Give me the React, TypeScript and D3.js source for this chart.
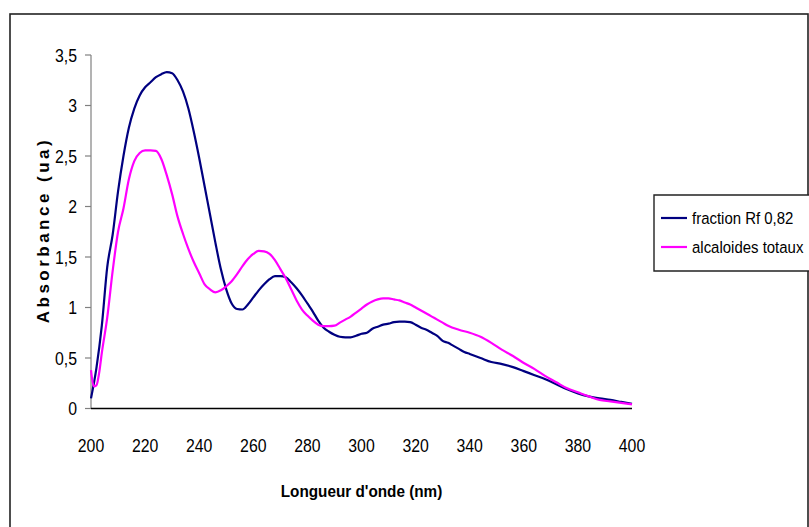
import React from 'react';
import * as d3 from 'd3';

// Absorption spectra (wavelength in nm, absorbance in ua)
const wavelengthsRf = [
  200, 202, 204, 206, 208, 210, 212, 214, 216, 218,
  220, 222, 224, 226, 228, 230, 232, 234, 236, 238,
  240, 242, 244, 246, 248, 250, 252, 254, 256, 258,
  260, 262, 264, 266, 268, 270, 272, 274, 276, 278,
  280, 282, 284, 286, 288, 290, 292, 294, 296, 298,
  300, 302, 304, 306, 308, 310, 312, 314, 316, 318,
  320, 322, 324, 326, 328, 330, 332, 334, 336, 338,
  340, 344, 348, 352, 356, 360, 364, 368, 372, 376,
  380, 384, 388, 392, 396, 400,
];
const absorbanceRf = [
  0.10, 0.40, 0.82, 1.40, 1.72, 2.15, 2.50, 2.78, 2.97, 3.10,
  3.18, 3.23, 3.28, 3.31, 3.33, 3.32, 3.25, 3.14, 2.97, 2.74,
  2.48, 2.20, 1.92, 1.64, 1.38, 1.18, 1.04, 0.985, 0.98, 1.03,
  1.10, 1.17, 1.23, 1.28, 1.31, 1.31, 1.30, 1.25, 1.19, 1.12,
  1.04, 0.96, 0.87, 0.80, 0.76, 0.73, 0.71, 0.705, 0.705, 0.72,
  0.74, 0.75, 0.79, 0.81, 0.83, 0.84, 0.855, 0.86, 0.86, 0.855,
  0.83, 0.80, 0.78, 0.75, 0.72, 0.67, 0.65, 0.62, 0.59, 0.56,
  0.54, 0.50, 0.46, 0.44, 0.41, 0.37, 0.33, 0.29, 0.24, 0.19,
  0.15, 0.12, 0.10, 0.085, 0.065, 0.045,
];

const wavelengthsTotal = [
  200, 201, 202, 203, 204,
  206, 208, 210, 212, 214, 216, 218, 220, 222, 224,
  226, 228, 230, 232, 234, 236, 238, 240, 242, 244,
  246, 248, 250, 252, 254, 256, 258, 260, 262, 264,
  266, 268, 270, 272, 274, 276, 278, 280, 282, 284,
  286, 288, 290, 292, 294, 296, 298, 300, 302, 304,
  306, 308, 310, 312, 314, 316, 318, 320, 322, 324,
  326, 328, 330, 332, 336, 340,
  344, 348, 352, 356, 360, 364, 368, 372, 376, 380,
  384, 388, 392, 396, 400,
];
const absorbanceTotal = [
  0.38, 0.22, 0.23, 0.35, 0.55,
  0.90, 1.36, 1.75, 1.98, 2.27, 2.45, 2.53, 2.555, 2.555, 2.55,
  2.47, 2.31, 2.12, 1.90, 1.73, 1.58, 1.45, 1.34, 1.23, 1.18,
  1.15, 1.17, 1.21, 1.26, 1.33, 1.41, 1.48, 1.53, 1.56, 1.555,
  1.53, 1.47, 1.38, 1.29, 1.18, 1.07, 0.98, 0.92, 0.87, 0.83,
  0.815, 0.815, 0.82, 0.85, 0.88, 0.91, 0.95, 0.99, 1.03, 1.06,
  1.08, 1.09, 1.09, 1.08, 1.07, 1.05, 1.03, 1.00, 0.97, 0.94,
  0.91, 0.88, 0.85, 0.82, 0.78, 0.75,
  0.71, 0.65, 0.58, 0.52, 0.45, 0.39, 0.32, 0.26, 0.20, 0.16,
  0.12, 0.085, 0.07, 0.055, 0.04,
];

const seriesNames = ['fraction Rf 0,82', 'alcaloides totaux'];
const seriesColors = ['#000080', '#FF00FF'];

const xTicks = [200, 220, 240, 260, 280, 300, 320, 340, 360, 380, 400];
const yTicks = [0, 0.5, 1, 1.5, 2, 2.5, 3, 3.5];

const xTitle = "Longueur d'onde (nm)";
const yTitle = 'Absorbance (ua)';

const W = 809;
const H = 527;
const FONT = 'Arial, "Liberation Sans", sans-serif';
const SQUEEZE = 0.88;

const fmt = (v: number) => String(v).replace('.', ',');

function Label({ x, y, anchor = 'start', size = 18, bold = false, squeeze = SQUEEZE, children }: any) {
  return (
    <text
      transform={`translate(${x},${y}) scale(${squeeze},1)`}
      textAnchor={anchor}
      fontFamily={FONT}
      fontSize={size}
      fontWeight={bold ? 'bold' : 'normal'}
      fill="#000"
    >
      {children}
    </text>
  );
}

export default function App() {
  const x = d3.scaleLinear().domain([200, 400]).range([91, 632]);
  const y = d3.scaleLinear().domain([0, 3.5]).range([408.5, 55]);

  const line = d3
    .line<[number, number]>()
    .x((d) => x(d[0]))
    .y((d) => y(d[1]))
    .curve(d3.curveMonotoneX);

  const series = [
    d3.zip(wavelengthsRf, absorbanceRf) as [number, number][],
    d3.zip(wavelengthsTotal, absorbanceTotal) as [number, number][],
  ];

  const [x0, x1] = x.range();
  const [yb, yt] = y.range();

  const legend = { left: 654, top: 195, bottom: 271, rows: [218, 247] };

  return (
    <svg
      width={W}
      height={H}
      style={{ position: 'absolute', left: 0, top: 0, background: '#fff' }}
    >
      <rect x={0} y={0} width={W} height={H} fill="#fff" />
      {/* chart frame */}
      <rect x={10} y={14} width={798} height={540} fill="none" stroke="#222" strokeWidth={1.6} />

      {/* y axis */}
      <line x1={x0} x2={x0} y1={yt} y2={yb} stroke="#808080" strokeWidth={1.2} />
      {yTicks.map((t) => (
        <g key={t}>
          <line x1={x0 - 6} x2={x0} y1={y(t)} y2={y(t)} stroke="#808080" strokeWidth={1.2} />
          <Label x={77} y={y(t) + 6.5} anchor="end">
            {fmt(t)}
          </Label>
        </g>
      ))}

      {/* x axis */}
      <line x1={x0} x2={x1} y1={yb} y2={yb} stroke="#000" strokeWidth={1.4} />
      {xTicks.map((t) => (
        <Label key={t} x={x(t)} y={451.5} anchor="middle">
          {t}
        </Label>
      ))}

      {/* titles */}
      <Label x={(x0 + x1) / 2} y={497} anchor="middle" size={17} squeeze={0.9} bold>
        {xTitle}
      </Label>
      <text
        transform={`translate(49,${(yt + yb) / 2}) rotate(-90)`}
        textAnchor="middle"
        fontFamily={FONT}
        fontSize={17}
        fontWeight="bold"
        textLength={183}
        lengthAdjust="spacing"
        fill="#000"
      >
        {yTitle}
      </text>

      {/* spectra */}
      {series.map((s, i) => (
        <path
          key={i}
          d={line(s) || ''}
          fill="none"
          stroke={seriesColors[i]}
          strokeWidth={2.2}
          strokeLinejoin="round"
        />
      ))}

      {/* legend */}
      <path
        d={`M${W + 2},${legend.top}H${legend.left}V${legend.bottom}H${W + 2}`}
        fill="#fff"
        stroke="#222"
        strokeWidth={1.4}
      />
      {seriesNames.map((name, i) => (
        <g key={name}>
          <line
            x1={legend.left + 7}
            x2={legend.left + 33}
            y1={legend.rows[i]}
            y2={legend.rows[i]}
            stroke={seriesColors[i]}
            strokeWidth={2.2}
          />
          <Label x={legend.left + 38} y={legend.rows[i] + 6} size={17}>
            {name}
          </Label>
        </g>
      ))}
    </svg>
  );
}
